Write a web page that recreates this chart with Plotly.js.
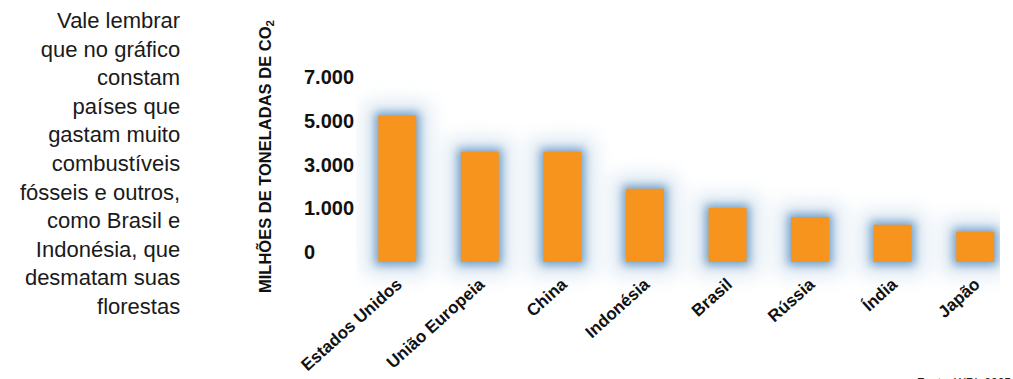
<!DOCTYPE html>
<html>
<head>
<meta charset="utf-8">
<script src="https://cdn.plot.ly/plotly-3.0.1.min.js"></script>
<style>
html,body{margin:0;padding:0;background:#fff;}
#chart{width:1013px;height:379px;}
</style>
</head>
<body>
<div id="chart"></div>
<script>
// ---- data ----
var countries = ["Estados Unidos", "União Europeia", "China", "Indonésia", "Brasil", "Rússia", "Índia", "Japão"];
var emissions = [5700, 4050, 4050, 2350, 1470, 1060, 850, 690]; // milhões de toneladas de CO2 (estimado)
var tickValues = [0, 1000, 3000, 5000, 7000];
var tickLabels = ["0", "1.000", "3.000", "5.000", "7.000"];
var sideText = ["Vale lembrar", "que no gráfico", "constam", "países que", "gastam muito",
  "combustíveis", "fósseis e outros,", "como Brasil e", "Indonésia, que", "desmatam suas", "florestas"];
var axisTitle = "MILHÕES DE TONELADAS DE CO<sub>2</sub>";
var sourceText = "Fonte: WRI, 2005";

// The original axis spaces its labels evenly (0, 1.000, 3.000, 5.000, 7.000):
// map a value onto that label scale piecewise.
function toScale(v) {
  for (var i = 0; i < tickValues.length - 1; i++) {
    if (v <= tickValues[i + 1]) {
      return i + (v - tickValues[i]) / (tickValues[i + 1] - tickValues[i]);
    }
  }
  return tickValues.length - 1;
}
var scaled = emissions.map(toScale);
var tickPos = tickValues.map(toScale);

// ---- geometry ----
var W = 1013, H = 379;
var M = {l: 290, r: 13, t: 40, b: 77};
var paperW = W - M.l - M.r, paperH = H - M.t - M.b;
function px2x(px) { return (px - M.l) / paperW; }
function px2y(py) { return (H - M.b - py) / paperH; }
var zeroPx = 262, stepPx = 43.7, catPx = 82.56;
var yRange = [-(H - M.b - zeroPx) / stepPx, (zeroPx - M.t) / stepPx];
var labelTopPx = 282;

function glowTrace(padPx, color) {
  var p = padPx / stepPx;
  return {
    type: "bar", x: countries, y: scaled.map(function (s) { return s + 2 * p; }),
    base: -p, width: 0.46 + 2 * padPx / catPx,
    marker: {color: color, line: {width: 0}},
    hoverinfo: "skip", showlegend: false
  };
}
var haze = glowTrace(13, "#dbe7f2");
var glow = glowTrace(3, "#6f9dc6");
var bars = {
  type: "bar", x: countries, y: scaled,
  width: 0.46,
  marker: {color: "#F7941E", line: {width: 0}},
  customdata: emissions,
  hovertemplate: "%{x}: %{customdata}<extra></extra>",
  showlegend: false
};

var layout = {
  width: W, height: H,
  margin: M,
  paper_bgcolor: "#fff", plot_bgcolor: "rgba(0,0,0,0)",
  barmode: "overlay",
  showlegend: false,
  xaxis: {
    domain: [px2x(356), 1],
    range: [-0.5, 7.3],
    type: "category",
    showgrid: false, zeroline: false, showline: false,
    ticks: "", tickangle: -42, ticklabelstandoff: -12 - (H - M.b - labelTopPx),
    tickfont: {family: "Liberation Sans, Arial, sans-serif", size: 17, color: "#111", weight: "bold"}
  },
  yaxis: {
    range: yRange,
    anchor: "free", position: px2x(303), side: "right",
    tickvals: tickPos, ticktext: tickLabels,
    ticks: "", showgrid: false, zeroline: false, showline: false,
    ticklabelshift: -10,
    tickfont: {family: "Liberation Sans, Arial, sans-serif", size: 20, color: "#111", weight: "bold"}
  },
  annotations: [
    {
      xref: "paper", yref: "paper", x: px2x(182), y: px2y(163),
      xanchor: "right", yanchor: "middle", align: "right",
      text: sideText.join("<br>"), showarrow: false,
      font: {family: "Liberation Sans, Arial, sans-serif", size: 22, color: "#1a1a1a"}
    },
    {
      xref: "paper", yref: "paper", x: px2x(265), y: px2y(157),
      xanchor: "center", yanchor: "middle", textangle: -90,
      text: axisTitle, showarrow: false,
      font: {family: "Liberation Sans, Arial, sans-serif", size: 16.5, color: "#111", weight: "bold"}
    },
    {
      xref: "paper", yref: "paper", x: px2x(915), y: px2y(374),
      xanchor: "left", yanchor: "top",
      text: sourceText, showarrow: false,
      font: {family: "Liberation Sans, Arial, sans-serif", size: 12, color: "#222"}
    }
  ]
};

Plotly.newPlot("chart", [haze, glow, bars], layout, {displayModeBar: false, staticPlot: true}).then(function () {
  var svg = document.querySelector("#chart .main-svg");
  var ns = "http://www.w3.org/2000/svg";
  var defs = svg.querySelector("defs");
  function addFilter(id, sd) {
    var f = document.createElementNS(ns, "filter");
    f.setAttribute("id", id);
    f.setAttribute("x", "-100%"); f.setAttribute("y", "-50%");
    f.setAttribute("width", "300%"); f.setAttribute("height", "200%");
    var b = document.createElementNS(ns, "feGaussianBlur");
    b.setAttribute("stdDeviation", sd);
    f.appendChild(b);
    defs.appendChild(f);
  }
  addFilter("barhaze", 10);
  addFilter("barglow", 5);
  var tr = document.querySelectorAll("#chart .barlayer .trace");
  if (tr[0]) tr[0].setAttribute("filter", "url(#barhaze)");
  if (tr[1]) tr[1].setAttribute("filter", "url(#barglow)");
});
</script>
</body>
</html>
